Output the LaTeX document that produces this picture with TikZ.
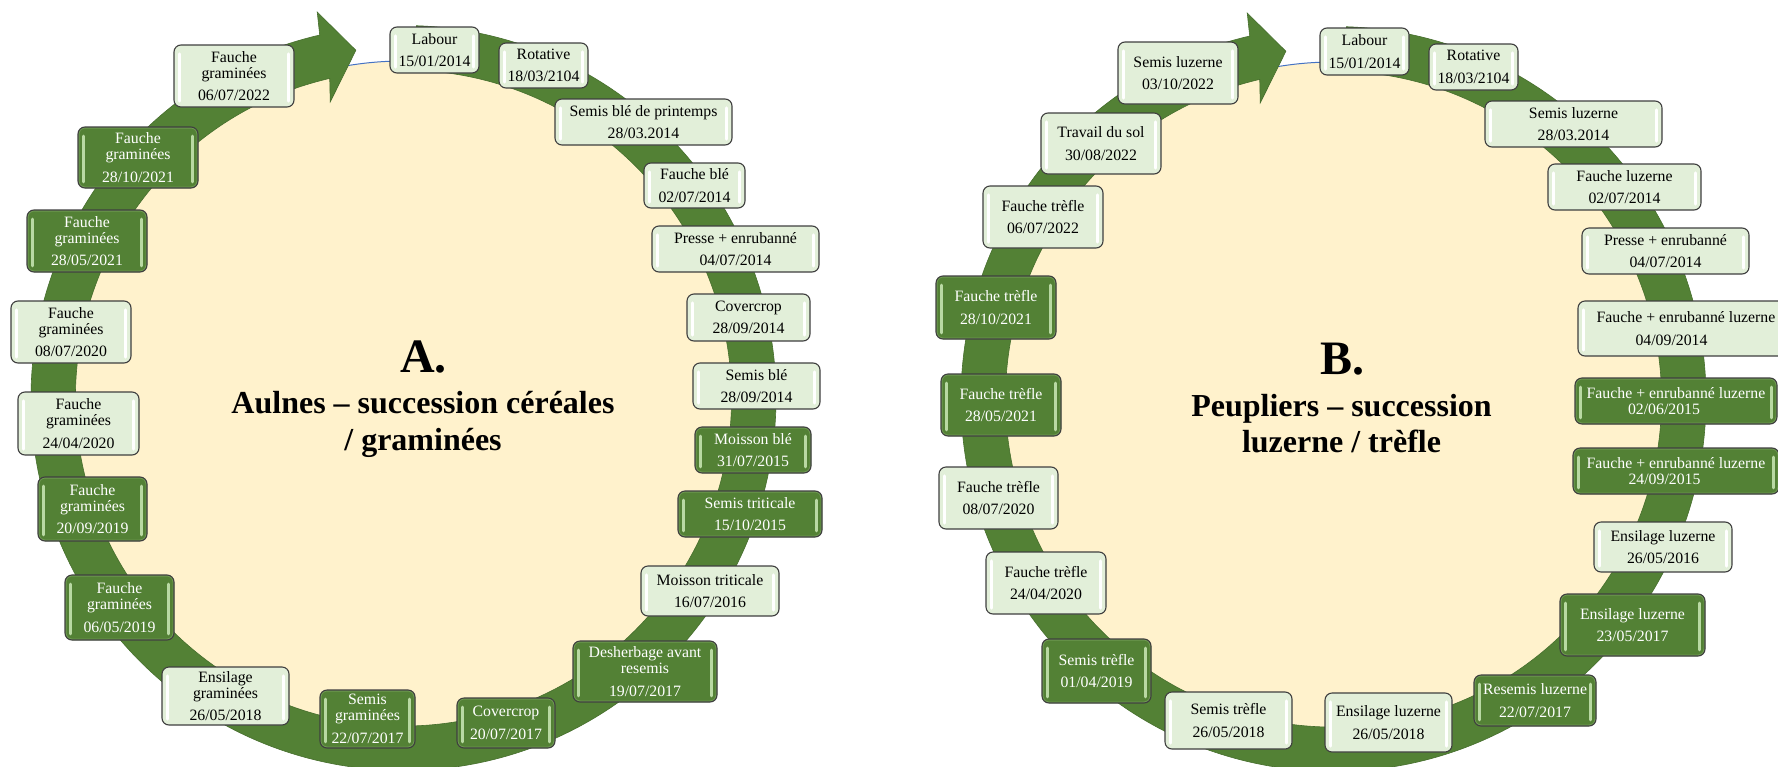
\documentclass[tikz,border=0pt]{standalone}
\usepackage{fontspec}
\setmainfont{Liberation Serif}
\definecolor{ringgreen}{HTML}{538135}
\definecolor{ringedge}{HTML}{466E2D}
\definecolor{diskfill}{HTML}{FFF2CC}
\definecolor{diskline}{HTML}{4472C4}
\definecolor{lightfill}{HTML}{E2EFD9}
\definecolor{boxline}{HTML}{3F3F3F}
\definecolor{lightbar}{HTML}{FFFFFF}
\definecolor{darkbar}{HTML}{B9D9A3}
\definecolor{darkrim}{HTML}{6E9951}
\newcommand{\glossbars}[2]{%
  \draw[color=#1, line width=#2, line cap=round]
    ([xshift=5.5pt,yshift=-9pt]path picture bounding box.north west) --
    ([xshift=5.5pt,yshift=6pt]path picture bounding box.south west)
    ([xshift=-5.5pt,yshift=-9pt]path picture bounding box.north east) --
    ([xshift=-5.5pt,yshift=6pt]path picture bounding box.south east);}
\newcommand{\darkrimdraw}{%
  \draw[color=darkrim, line width=3pt, rounded corners=7pt]
    (path picture bounding box.south west) rectangle (path picture bounding box.north east);}
\tikzset{
  opbox/.style={rounded corners=7pt, draw=boxline, line width=1.1pt, inner sep=0pt,
    align=center, font=\fontsize{15.8pt}{22.5pt}\selectfont},
  lightbox/.style={opbox, fill=lightfill, text=black, path picture={\glossbars{lightbar}{3.2pt}}},
  darkbox/.style={opbox, fill=ringgreen, text=white, path picture={\darkrimdraw\glossbars{darkbar}{2.6pt}}},
  tight/.style={font=\fontsize{15.8pt}{16pt}\selectfont},
  vtight/.style={font=\fontsize{15.8pt}{15.5pt}\selectfont},
  sz/.style 2 args={minimum width=#1pt, minimum height=#2pt},
  titlebig/.style={inner sep=0pt, font=\fontsize{48pt}{48pt}\selectfont\bfseries},
  titlesub/.style={inner sep=0pt, font=\fontsize{32pt}{37pt}\selectfont\bfseries},
  ringshape/.style={fill=ringgreen, draw=ringedge, line width=0.6pt},
}
\begin{document}
\begin{tikzpicture}[x=1pt,y=-1pt]
\useasboundingbox (0,0) rectangle (1778,766);
\clip (0,0) rectangle (1778,766);
\fill[white] (0,0) rectangle (1778,766);

% ---- panel A ring
\begin{scope}[shift={(403.5,398)}]
  \fill[diskfill] (0,0) circle[radius=337];
  \draw[diskline, line width=1pt] (0,0) circle[radius=337];
  \path[ringshape] (-88:372.5) arc[start angle=-88, end angle=257, radius=372.5]
    -- (257.4:395.5) -- (262.2:351) -- (256.1:305) -- (257:328)
    arc[start angle=257, end angle=-88, radius=328] -- cycle;
\end{scope}
% ---- panel B ring
\begin{scope}[shift={(1333.5,399)}]
  \fill[diskfill] (0,0) circle[radius=337];
  \draw[diskline, line width=1pt] (0,0) circle[radius=337];
  \path[ringshape] (-88:372.5) arc[start angle=-88, end angle=257, radius=372.5]
    -- (257.4:395.5) -- (262.2:351) -- (256.1:305) -- (257:328)
    arc[start angle=257, end angle=-88, radius=328] -- cycle;
\end{scope}

% ---- panel A boxes
\node[lightbox, sz={89}{46}] (a01) at (434.5,50) {Labour\\15/01/2014};
\node[lightbox, sz={89}{45}] (a02) at (543.5,65.5) {Rotative\\18/03/2104};
\node[lightbox, sz={177}{46}] (a03) at (643.5,122) {Semis blé de printemps\\28/03.2014};
\node[lightbox, sz={101}{45}] (a04) at (694.5,185.5) {Fauche blé\\02/07/2014};
\node[lightbox, sz={167}{46}] (a05) at (735.5,249) {Presse + enrubanné\\04/07/2014};
\node[lightbox, sz={123}{47}] (a06) at (748.5,317.5) {Covercrop\\28/09/2014};
\node[lightbox, sz={127}{46}] (a07) at (756.5,386) {Semis blé\\28/09/2014};
\node[darkbox, sz={116}{46}] (a08) at (753,450) {Moisson blé\\31/07/2015};
\node[darkbox, sz={144}{46}] (a09) at (750,514) {Semis triticale\\15/10/2015};
\node[lightbox, sz={138}{50}] (a10) at (710,591) {Moisson triticale\\16/07/2016};
\node[darkbox, tight, sz={144}{61}] (a11) at (645,671.5) {Desherbage avant\\resemis\\[6.5pt]19/07/2017};
\node[darkbox, sz={98}{50}] (a12) at (506,723) {Covercrop\\20/07/2017};
\node[darkbox, tight, sz={95}{58}] (a13) at (367.5,719) {Semis\\graminées\\[6.5pt]22/07/2017};
\node[lightbox, tight, sz={127}{58}] (a14) at (225.5,696) {Ensilage\\graminées\\[6.5pt]26/05/2018};
\node[darkbox, tight, sz={109}{65}] (a15) at (119.5,607.5) {Fauche\\graminées\\[6.5pt]06/05/2019};
\node[darkbox, tight, sz={109}{64}] (a16) at (92.5,509) {Fauche\\graminées\\[6.5pt]20/09/2019};
\node[lightbox, tight, sz={121}{63}] (a17) at (78.5,423.5) {Fauche\\graminées\\[6.5pt]24/04/2020};
\node[lightbox, tight, sz={120}{62}] (a18) at (71,332) {Fauche\\graminées\\[6.5pt]08/07/2020};
\node[darkbox, tight, sz={120}{62}] (a19) at (87,241) {Fauche\\graminées\\[6.5pt]28/05/2021};
\node[darkbox, tight, sz={120}{61}] (a20) at (138,157.5) {Fauche\\graminées\\[6.5pt]28/10/2021};
\node[lightbox, tight, sz={120}{62}] (a21) at (234,76) {Fauche\\graminées\\[6.5pt]06/07/2022};

% ---- panel B boxes
\node[lightbox, sz={89}{47}] (b01) at (1364.5,51.5) {Labour\\15/01/2014};
\node[lightbox, sz={89}{46}] (b02) at (1473.5,67) {Rotative\\18/03/2104};
\node[lightbox, sz={177}{46}] (b03) at (1573.5,124) {Semis luzerne\\28/03.2014};
\node[lightbox, sz={153}{46}] (b04) at (1624.5,187) {Fauche luzerne\\02/07/2014};
\node[lightbox, sz={167}{46}] (b05) at (1665.5,251) {Presse + enrubanné\\04/07/2014};
\node[lightbox, sz={216}{55}] (b06) at (1686,328.5) {Fauche + enrubanné luzerne\\04/09/2014\hspace*{29pt}};
\node[darkbox, vtight, sz={202}{46}] (b07) at (1676,401) {Fauche + enrubanné luzerne\\02/06/2015\hspace*{24pt}};
\node[darkbox, vtight, sz={206}{46}] (b08) at (1676,471) {Fauche + enrubanné luzerne\\24/09/2015\hspace*{23pt}};
\node[lightbox, sz={138}{50}] (b09) at (1663,547) {Ensilage luzerne\\26/05/2016};
\node[darkbox, sz={145}{62}] (b10) at (1632.5,625) {Ensilage luzerne\\23/05/2017};
\node[darkbox, sz={122}{51}] (b11) at (1535,700.5) {Resemis luzerne\\22/07/2017};
\node[lightbox, sz={127}{59}] (b12) at (1388.5,722.5) {Ensilage luzerne\\26/05/2018};
\node[lightbox, sz={127}{57}] (b13) at (1228.5,720.5) {Semis trèfle\\26/05/2018};
\node[darkbox, sz={109}{64}] (b14) at (1096.5,671) {Semis trèfle\\01/04/2019};
\node[lightbox, sz={120}{62}] (b15) at (1046,583) {Fauche trèfle\\24/04/2020};
\node[lightbox, sz={119}{62}] (b16) at (998.5,498) {Fauche trèfle\\08/07/2020};
\node[darkbox, sz={120}{62}] (b17) at (1001,405) {Fauche trèfle\\28/05/2021};
\node[darkbox, sz={120}{63}] (b18) at (996,307.5) {Fauche trèfle\\28/10/2021};
\node[lightbox, sz={120}{62}] (b19) at (1043,217) {Fauche trèfle\\06/07/2022};
\node[lightbox, sz={120}{61}] (b20) at (1101,143.5) {Travail du sol\\30/08/2022};
\node[lightbox, sz={120}{62}] (b21) at (1178,73) {Semis luzerne\\03/10/2022};

% ---- titles
\node[titlebig, anchor=base] (tA0) at (423.5,372) {A.};
\node[titlesub, anchor=base] (tA1) at (423,413) {Aulnes – succession céréales};
\node[titlesub, anchor=base] (tA2) at (423,450) {/ graminées};
\node[titlebig, anchor=base] (tB0) at (1342,374) {B.};
\node[titlesub, anchor=base] (tB1) at (1341.5,416) {Peupliers – succession};
\node[titlesub, anchor=base] (tB2) at (1341.5,452) {luzerne / trèfle};
\end{tikzpicture}
\end{document}
